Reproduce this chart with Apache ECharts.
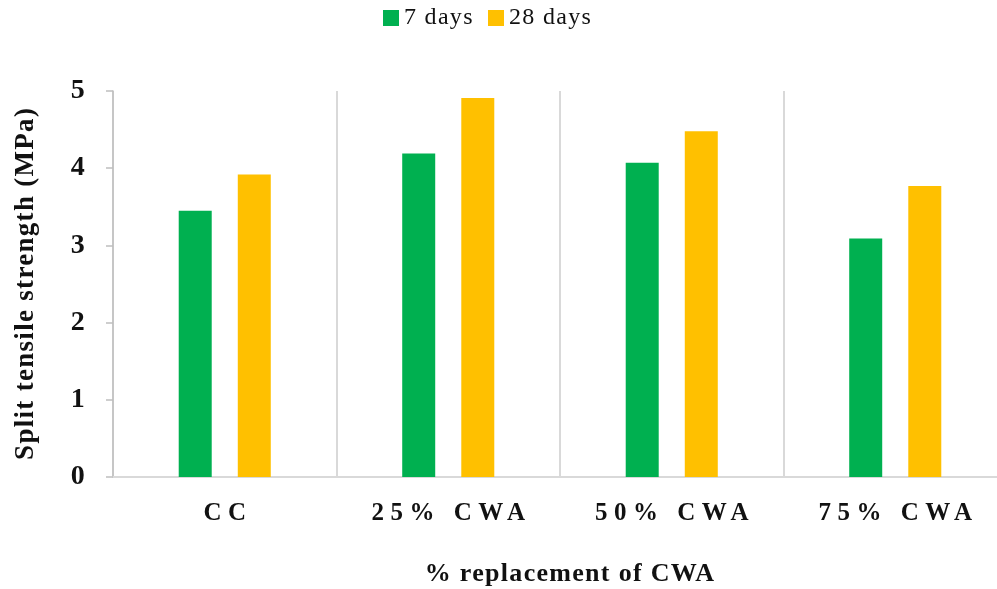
<!DOCTYPE html>
<html>
<head>
<meta charset="utf-8">
<script src="https://cdn.jsdelivr.net/npm/echarts@6/dist/echarts.min.js"></script>
<style>html,body{margin:0;padding:0;background:#fff}#c{width:997px;height:589px}</style>
</head>
<body>
<div id="c"></div>
<script>
const categories = ['CC', '25% CWA', '50% CWA', '75% CWA'];
const days7 = [3.45, 4.19, 4.07, 3.09];
const days28 = [3.92, 4.91, 4.48, 3.77];
const seriesNames = ['7 days', '28 days'];
const yTicks = [0, 1, 2, 3, 4, 5];
const yTitle = 'Split tensile strength (MPa)';
const xTitle = '% replacement of CWA';

// expanded character spacing as in the reference (applied to drawn text only)
const spacing = {};
categories.forEach(c => spacing[c] = '6.5px');
spacing[yTitle] = '1.3px';
const origFill = CanvasRenderingContext2D.prototype.fillText;
CanvasRenderingContext2D.prototype.fillText = function (t, x, y, w) {
  const s = spacing[t];
  if (s && 'letterSpacing' in this) {
    const prev = this.letterSpacing;
    this.letterSpacing = s;
    const dx = this.textAlign === 'center' ? parseFloat(s) / 2 : 0;
    const r = w === undefined ? origFill.call(this, t, x + dx, y) : origFill.call(this, t, x + dx, y, w);
    this.letterSpacing = prev;
    return r;
  }
  return w === undefined ? origFill.call(this, t, x, y) : origFill.call(this, t, x, y, w);
};

const font = '"Liberation Serif", "Times New Roman", serif';
const chart = echarts.init(document.getElementById('c'), null, {renderer: 'canvas'});
chart.setOption({
  animation: false,
  backgroundColor: '#fff',
  textStyle: {fontFamily: font},
  legend: {
    top: 1,
    left: 378,
    itemWidth: 16,
    itemHeight: 16,
    itemGap: 22,
    icon: 'rect',
    textStyle: {fontFamily: font, fontSize: 24, color: '#111'},
    data: seriesNames
  },
  grid: {left: 113, right: -10, top: 91, bottom: 112, containLabel: false, outerBoundsMode: 'none'},
  xAxis: {
    type: 'category',
    data: categories,
    boundaryGap: true,
    axisLine: {lineStyle: {color: '#d9d9d9', width: 2}},
    axisTick: {show: false},
    splitLine: {show: true, lineStyle: {color: '#d9d9d9', width: 2}},
    axisLabel: {
      fontFamily: font, fontSize: 25, fontWeight: 'bold', color: '#111',
      margin: 24, lineHeight: 25, interval: 0
    },
    name: xTitle,
    nameLocation: 'middle',
    nameGap: 84,
    nameTextStyle: {fontFamily: font, fontSize: 26, fontWeight: 'bold', color: '#111', lineHeight: 26, padding: [0, 0, 0, 20]}
  },
  yAxis: {
    type: 'value',
    min: yTicks[0],
    max: yTicks[yTicks.length - 1],
    interval: 1,
    axisLine: {show: true, lineStyle: {color: '#bfbfbf', width: 1.5}},
    axisTick: {show: true, length: 7, lineStyle: {color: '#bfbfbf', width: 1.5}},
    splitLine: {show: false},
    axisLabel: {fontFamily: font, fontSize: 28, fontWeight: 'bold', color: '#111', margin: 27},
    name: yTitle,
    nameLocation: 'middle',
    nameGap: 62,
    nameRotate: 90,
    nameTextStyle: {fontFamily: font, fontSize: 27, fontWeight: 'bold', color: '#111', lineHeight: 27, padding: [0, 0, 11, 0]}
  },
  series: [
    {name: seriesNames[0], type: 'bar', data: days7, barWidth: 33, barGap: '79%', itemStyle: {color: '#00B050'}},
    {name: seriesNames[1], type: 'bar', data: days28, barWidth: 33, barGap: '79%', itemStyle: {color: '#FFC000'}}
  ]
});
</script>
</body>
</html>
